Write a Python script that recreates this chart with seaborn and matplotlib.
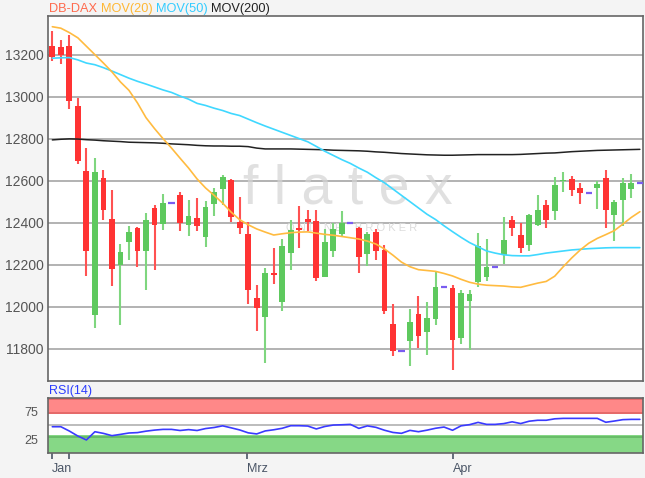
import numpy as np
import pandas as pd
import matplotlib.pyplot as plt
import seaborn as sns

# Kursdaten (Tageskerzen), flache Tage = kein Handel (Strich auf Vortagesschluss)
opens = [13243, 13237, 13243, 12954, 12648, 11962, 12613, 12419, 12200, 12306,
         12375, 12263, 12470, 12394, 12494, 12533, 12390, 12422, 12330, 12490,
         12562, 12602, 12402, 12346, 12041, 11951, 12160, 12022, 12256, 12375,
         12417, 12406, 12141, 12267, 12346, 12398, 12375, 12251, 12354, 12271,
         11919, 11787, 11838, 11965, 11879, 11943, 12095, 12089, 11851, 12025,
         12118, 12143, 12190, 12248, 12414, 12340, 12295, 12387, 12486, 12457,
         12597, 12606, 12565, 12543, 12565, 12613, 12438, 12506, 12562, 12589]
highs = [13311, 13271, 13295, 12994, 12756, 12708, 12652, 12554, 12298, 12386,
         12381, 12446, 12486, 12538, 12494, 12546, 12510, 12517, 12505, 12565,
         12625, 12608, 12521, 12403, 12105, 12184, 12279, 12322, 12414, 12478,
         12462, 12462, 12371, 12398, 12457, 12398, 12381, 12354, 12371, 12295,
         12013, 11787, 11989, 12052, 12021, 12165, 12095, 12105, 12081, 12081,
         12350, 12320, 12190, 12425, 12430, 12398, 12441, 12533, 12510, 12616,
         12640, 12624, 12589, 12543, 12597, 12652, 12510, 12613, 12633, 12589]
lows = [13171, 13156, 12941, 12679, 12148, 11898, 12414, 12097, 11914, 12221,
        12187, 12081, 12175, 12367, 12494, 12359, 12335, 12359, 12283, 12433,
        12486, 12403, 12346, 12013, 11883, 11732, 12108, 11978, 12176, 12279,
        12359, 12121, 12141, 12235, 12335, 12398, 12160, 12192, 12224, 11965,
        11763, 11787, 11716, 11803, 11771, 11914, 12095, 11700, 11822, 11795,
        12095, 12120, 12190, 12203, 12335, 12256, 12263, 12383, 12375, 12414,
        12546, 12529, 12489, 12543, 12467, 12375, 12314, 12383, 12517, 12589]
closes = [13187, 13197, 12981, 12692, 12267, 12640, 12459, 12181, 12259, 12356,
          12263, 12414, 12387, 12494, 12494, 12398, 12430, 12383, 12475, 12544,
          12617, 12427, 12375, 12081, 11994, 12160, 12152, 12290, 12367, 12363,
          12402, 12137, 12308, 12371, 12398, 12398, 12235, 12348, 12267, 11981,
          11787, 11787, 11925, 11859, 11946, 12095, 12095, 11843, 12065, 12060,
          12290, 12190, 12190, 12319, 12375, 12279, 12435, 12459, 12414, 12578,
          12605, 12557, 12541, 12543, 12584, 12462, 12498, 12589, 12589, 12589]

mov20 = [13333, 13326, 13305, 13280, 13240, 13200, 13160, 13118, 13070, 13030,
         12970, 12900, 12848, 12800, 12755, 12707, 12660, 12608, 12565, 12530,
         12493, 12450, 12414, 12390, 12370, 12355, 12341, 12347, 12352, 12355,
         12356, 12350, 12344, 12340, 12334, 12328, 12322, 12312, 12298, 12275,
         12245, 12212, 12190, 12176, 12172, 12168, 12158, 12146, 12130, 12116,
         12107, 12102, 12100, 12098, 12094, 12092, 12102, 12112, 12120, 12145,
         12190, 12232, 12270, 12302, 12325, 12343, 12362, 12393, 12425, 12452]
mov50 = [13183, 13185, 13186, 13175, 13160, 13152, 13138, 13122, 13105, 13088,
         13073, 13060, 13046, 13032, 13020, 13003, 12988, 12968, 12958, 12945,
         12934, 12920, 12910, 12893, 12876, 12860, 12845, 12830, 12815, 12800,
         12785, 12763, 12740, 12720, 12700, 12682, 12660, 12640, 12614, 12590,
         12560, 12530, 12500, 12470, 12440, 12415, 12385, 12357, 12330, 12305,
         12285, 12265, 12255, 12247, 12243, 12242, 12242, 12248, 12255, 12260,
         12265, 12270, 12273, 12276, 12278, 12280, 12281, 12281, 12281, 12281]
mov200 = [12794, 12797, 12799, 12798, 12795, 12793, 12790, 12788, 12786, 12783,
          12782, 12781, 12780, 12778, 12775, 12773, 12771, 12768, 12766, 12765,
          12765, 12764, 12764, 12762, 12755, 12751, 12751, 12751, 12751, 12750,
          12749, 12748, 12747, 12745, 12744, 12743, 12742, 12740, 12737, 12735,
          12732, 12729, 12727, 12725, 12723, 12722, 12721, 12721, 12722, 12723,
          12724, 12724, 12724, 12724, 12724, 12725, 12727, 12729, 12731, 12732,
          12735, 12738, 12740, 12742, 12744, 12745, 12746, 12747, 12748, 12749]
rsi14 = [47.8, 47.8, 40.0, 31.0, 24.0, 38.8, 35.8, 31.7, 34.0, 36.5,
         37.2, 39.8, 41.7, 43.0, 43.0, 41.0, 42.6, 41.0, 44.5, 46.4,
         49.4, 45.8, 42.0, 36.8, 34.8, 40.2, 42.3, 45.0, 49.6, 49.6,
         49.0, 43.8, 48.2, 50.8, 51.3, 52.0, 44.8, 49.3, 46.7, 41.5,
         37.5, 35.9, 41.2, 38.8, 41.6, 45.0, 47.2, 41.4, 49.4, 51.5,
         55.6, 52.0, 52.0, 53.4, 56.6, 53.5, 57.7, 59.4, 59.4, 62.0,
         62.8, 62.8, 62.8, 62.8, 62.8, 55.8, 58.0, 60.5, 61.0, 61.0]

month_labels = ['Jan', '', 'Mrz', 'Apr']
month_ticks = [0, 1.9, 22.9, 47.05]
price_ticks = [11800, 12000, 12200, 12400, 12600, 12800, 13000, 13200]
rsi_ticks = [25, 75]

df = pd.DataFrame({'open': opens, 'high': highs, 'low': lows, 'close': closes,
                   'mov20': mov20, 'mov50': mov50, 'mov200': mov200, 'rsi': rsi14})
df['idx'] = np.arange(len(df))
df['flat'] = df['high'] == df['low']
df['up'] = df['close'] >= df['open']

sns.set_theme(style='white')
plt.rcParams['font.family'] = ['Liberation Sans', 'DejaVu Sans']

fig = plt.figure(figsize=(6.45, 4.78), dpi=100, facecolor='#f4f4f4')
ax = fig.add_axes([0.074, 0.203, 0.9224, 0.7635])
ax_rsi = fig.add_axes([0.074, 0.0517, 0.9224, 0.1163])

# Kerzen
candles = df[~df['flat']]
body_col = np.where(candles['up'], '#5ec95e', '#ff3333')
wick_col = np.where(candles['up'], '#7fd67f', '#ff5252')
ax.vlines(candles['idx'], candles['low'], candles['high'], colors=wick_col, lw=1.5, zorder=3)
body_h = np.maximum((candles['close'] - candles['open']).abs(), 6)
body_b = np.minimum(candles['open'], candles['close'])
ax.bar(candles['idx'], body_h, bottom=body_b, width=0.68, color=body_col, lw=0, zorder=4)
flat = df[df['flat']]
ax.hlines(flat['close'], flat['idx'] - 0.36, flat['idx'] + 0.36, colors='#7a5cf0', lw=1.6, zorder=4)

# gleitende Durchschnitte
sns.lineplot(data=df, x='idx', y='mov200', ax=ax, color='#222222', lw=1.1, zorder=5)
sns.lineplot(data=df, x='idx', y='mov50', ax=ax, color='#40d8ff', lw=1.2, zorder=5)
sns.lineplot(data=df, x='idx', y='mov20', ax=ax, color='#ffbb40', lw=1.2, zorder=5)

# Wasserzeichen
ax.text(0.505, 0.525, 'f l a t e x', transform=ax.transAxes, ha='center', va='center',
        fontsize=40, color='#d4d4d4', alpha=0.7, zorder=2)
ax.text(0.51, 0.42, 'O N L I N E    B R O K E R', transform=ax.transAxes, ha='center',
        va='center', fontsize=8, color='#dcdcdc', zorder=2)

ax.set_xlim(-0.54, 69.33)
ax.set_ylim(11646, 13384)
ax.set_yticks(price_ticks)
ax.set_yticklabels([str(t) for t in price_ticks])
ax.set_xticks([])
ax.grid(axis='y', color='#adadad', lw=1.3, zorder=1)
ax.set_axisbelow(True)
ax.tick_params(axis='y', length=0, pad=3, labelsize=10, labelcolor='#555555')
ax.set_xlabel('')
ax.set_ylabel('')
for s in ax.spines.values():
    s.set_color('#666666')
    s.set_linewidth(1.2)

# RSI-Panel
ax_rsi.axhspan(70, 100, color='#ff8888', lw=0, zorder=0)
ax_rsi.axhspan(0, 33, color='#86d886', lw=0, zorder=0)
ax_rsi.axhline(72, color='#e06464', lw=1.2, zorder=1)
ax_rsi.axhline(98, color='#e06464', lw=1.2, zorder=1)
ax_rsi.axhline(29.5, color='#62b862', lw=1.2, zorder=1)
ax_rsi.axhline(51, color='#b0b0b0', lw=1.2, zorder=1)
sns.lineplot(data=df, x='idx', y='rsi', ax=ax_rsi, color='#3a3aff', lw=1.2, zorder=3)
ax_rsi.set_xlim(-0.54, 69.33)
ax_rsi.set_ylim(0, 100)
ax_rsi.set_yticks(rsi_ticks)
ax_rsi.set_yticklabels([str(t) for t in rsi_ticks])
ax_rsi.set_xticks(month_ticks)
ax_rsi.set_xticklabels(month_labels, ha='left')
ax_rsi.tick_params(axis='y', length=0, pad=7, labelsize=9, labelcolor='#555555')
ax_rsi.tick_params(axis='x', length=4, width=1.2, color='#4a5566', pad=3, labelsize=9,
                   labelcolor='#4a5566', bottom=True)
ax_rsi.set_xlabel('')
ax_rsi.set_ylabel('')
for s in ax_rsi.spines.values():
    s.set_color('#666666')
    s.set_linewidth(1.2)

# Legende oben
fig.text(49 / 645, 1 - 8.7 / 478, 'DB-DAX', color='#ff6a4d', fontsize=9.2, va='center')
fig.text(101 / 645, 1 - 8.7 / 478, 'MOV(20)', color='#ffb733', fontsize=9.2, va='center')
fig.text(156 / 645, 1 - 8.7 / 478, 'MOV(50)', color='#33ccff', fontsize=9.2, va='center')
fig.text(211 / 645, 1 - 8.7 / 478, 'MOV(200)', color='#222222', fontsize=9.2, va='center')
fig.text(49 / 645, 1 - 391 / 478, 'RSI(14)', color='#2b3cff', fontsize=9, va='center')

plt.savefig('out.png', dpi=100, facecolor=fig.get_facecolor())
